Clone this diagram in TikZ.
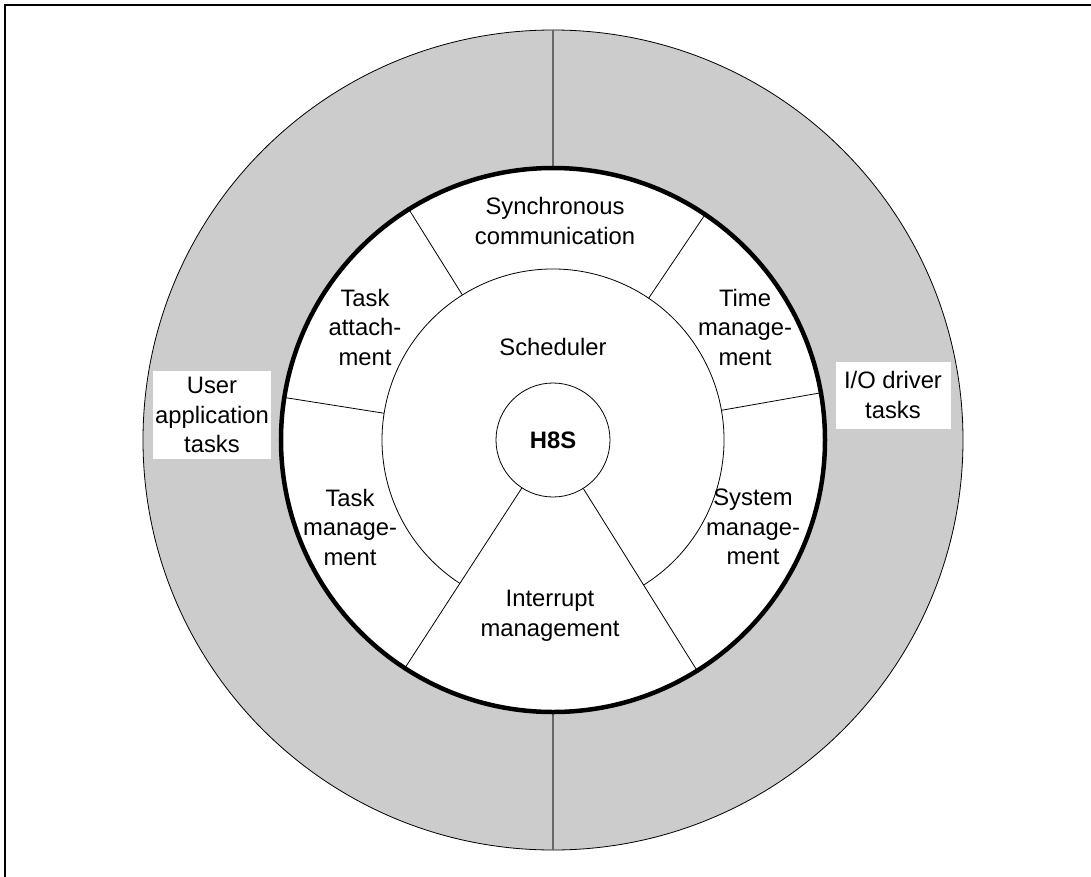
\documentclass[tikz,border=0pt]{standalone}
\usepackage{fontspec}
\setmainfont{Liberation Sans}
\usepackage{tikz}

\begin{document}
\begin{tikzpicture}[x=1pt,y=1pt,
  sector/.style={align=center,font=\fontsize{23.8}{29.5}\selectfont},
  taskbox/.style={sector,fill=white,inner sep=0pt},
  divider/.style={draw=black,line width=0.8pt}]
\useasboundingbox (-553,-436) rectangle (538,440);
% frame:
\path[draw=black,line width=2.2pt] (540,435) -- (-548,435) -- (-548,-440);
% outer ring:
\path[draw=black,line width=0.8pt,fill=black!20] (0,0) circle (410);
\path[draw=black!60,line width=1.2pt] (0,410) -- (0,-410);
% kernel ring:
\node[circle,draw=black,line width=4.5pt,fill=white,minimum size=544,inner sep=0pt] (kernel) at (0,0) {};
\node[circle,minimum size=342,inner sep=0pt,outer sep=0pt] (sched) at (0,0) {};
\path[draw=black,line width=0.8pt] (302:171) arc[start angle=302,end angle=597,radius=171];
\node[circle,draw=black,line width=0.8pt,minimum size=114,inner sep=0pt,
  font=\fontsize{23.8}{29.5}\selectfont\bfseries] (core) at (0,0) {H8S};
% dividers:
\foreach \a in {10,56,122,171.5}
  \path[divider] (sched.\a) -- (kernel.\a);
\path[divider] (core.237) -- (kernel.237);
\path[divider] (core.302) -- (kernel.302);
% labels:
\node[sector] (sync) at (2,219) {Synchronous\\communication};
\node[sector] (time) at (192,113) {Time\\manage-\\ment};
\node[sector] (attach) at (-188,113) {Task\\attach-\\ment};
\node[sector] (schedlabel) at (0,93) {Scheduler};
\node[sector] (taskmgmt) at (-203,-87) {Task\\manage-\\ment};
\node[sector] (sysmgmt) at (200,-87) {System\\manage-\\ment};
\node[sector] (intr) at (-3,-176) {Interrupt\\management};
\node[taskbox,minimum width=118,minimum height=88] (user) at (-341,25) {User\\application\\tasks};
\node[taskbox,minimum width=115,minimum height=67] (iodrv) at (340,45) {I/O driver\\tasks};
\end{tikzpicture}
\end{document}
